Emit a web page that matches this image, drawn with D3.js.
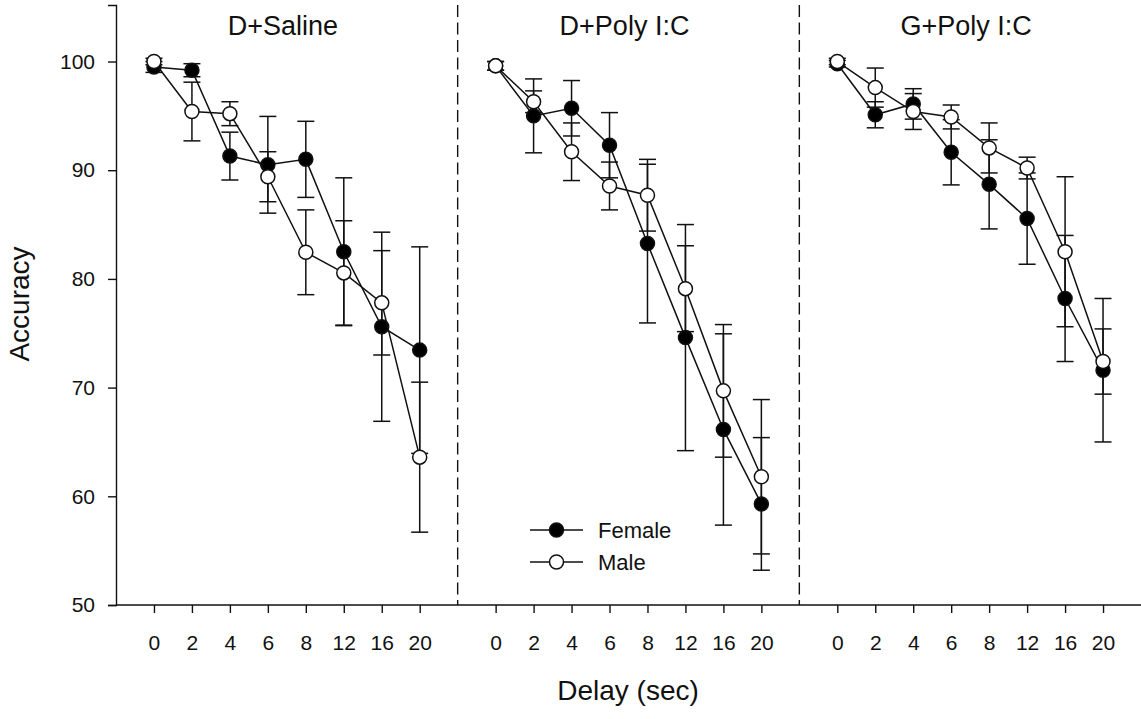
<!DOCTYPE html>
<meta charset="utf-8">
<style>
body { margin: 0; background: #fff; }
svg { font-family: Arial, "Liberation Sans", sans-serif; }
.axis text { font-size: 21px; fill: #111; }
.axis line, .axis path { stroke: #111; stroke-width: 1.4px; }
.series path.line { fill: none; stroke: #111; stroke-width: 1.5px; }
.err line { stroke: #111; stroke-width: 1.5px; }
</style>
<svg width="1141" height="719"></svg>
<script src="https://cdn.jsdelivr.net/npm/d3@7"></script>
<script>

// chart data
var delays = ["0", "2", "4", "6", "8", "12", "16", "20"];
var panels = ["D+Saline", "D+Poly I:C", "G+Poly I:C"];
var seriesNames = ["Female", "Male"];

var femaleMean = [
  [99.5, 99.2, 91.3, 90.5, 91.0, 82.5, 75.6, 73.45],
  [99.6, 95.0, 95.7, 92.3, 83.25, 74.6, 66.15, 59.3],
  [99.8, 95.1, 96.1, 91.65, 88.7, 85.55, 78.2, 71.6]
];
var femaleErr = [
  [0.5, 0.6, 2.2, 4.45, 3.5, 6.8, 8.7, 9.5],
  [0.4, 3.4, 2.55, 3.0, 7.3, 10.4, 8.8, 6.1],
  [0.3, 1.2, 1.4, 3.0, 4.1, 4.2, 5.8, 6.6]
];
var maleMean = [
  [100.0, 95.4, 95.2, 89.4, 82.45, 80.55, 77.8, 63.6],
  [99.6, 96.3, 91.7, 88.55, 87.7, 79.1, 69.7, 61.8],
  [100.0, 97.6, 95.4, 94.9, 92.05, 90.2, 82.5, 72.4]
];
var maleErr = [
  [0.3, 2.7, 1.1, 2.3, 3.9, 4.8, 4.8, 6.9],
  [0.4, 1.0, 2.65, 2.2, 3.3, 3.95, 6.1, 7.1],
  [0.3, 1.8, 1.65, 1.1, 2.3, 1.0, 6.9, 3.0]
];
var yTicks = [50, 60, 70, 80, 90, 100];

var svg = d3.select("svg");
var plotLeft = 116, plotRight = 1141, plotTop = 5, plotBottom = 605;

var y = d3.scaleLinear().domain([50, 105.2]).range([plotBottom, plotTop]);

var panelX = d3.scaleBand().domain(panels).range([plotLeft, plotRight]);

// y axis
svg.append("g")
    .attr("class", "axis")
    .attr("transform", "translate(" + plotLeft + ",0)")
    .call(d3.axisLeft(y).tickValues(yTicks).tickSizeOuter(0).tickSize(8).tickPadding(13));

// x axis baseline
svg.append("line")
    .attr("x1", plotLeft).attr("x2", plotRight)
    .attr("y1", plotBottom).attr("y2", plotBottom)
    .attr("stroke", "#111").attr("stroke-width", 1.4);

// dashed dividers
svg.selectAll(".divider")
    .data(panels.slice(1))
    .enter().append("line")
    .attr("class", "divider")
    .attr("x1", function(d) { return panelX(d); })
    .attr("x2", function(d) { return panelX(d); })
    .attr("y1", plotTop).attr("y2", plotBottom)
    .attr("stroke", "#111").attr("stroke-width", 1.4)
    .attr("stroke-dasharray", "12,5.5");

panels.forEach(function(name, pi) {
  var x = d3.scalePoint().domain(delays)
      .range([panelX(name), panelX(name) + panelX.bandwidth()])
      .padding(1);

  var ax = svg.append("g")
      .attr("class", "axis")
      .attr("transform", "translate(0," + plotBottom + ")")
      .call(d3.axisBottom(x).tickSizeOuter(0).tickSize(8).tickPadding(22));
  ax.select(".domain").remove();

  svg.append("text")
      .attr("x", panelX(name) + panelX.bandwidth() / 2 - 4)
      .attr("y", 35)
      .attr("text-anchor", "middle")
      .style("font-size", "27px")
      .attr("fill", "#111")
      .text(name);

  var sets = [
    { name: "Female", mean: femaleMean[pi], err: femaleErr[pi], fill: "#000" },
    { name: "Male", mean: maleMean[pi], err: maleErr[pi], fill: "#fff" }
  ];

  // error bars first
  sets.forEach(function(s) {
    var pts = delays.map(function(d, i) { return { d: d, m: s.mean[i], e: s.err[i] }; });
    var g = svg.append("g").attr("class", "err");
    g.selectAll(".v").data(pts).enter().append("line")
        .attr("x1", function(p) { return x(p.d); })
        .attr("x2", function(p) { return x(p.d); })
        .attr("y1", function(p) { return y(p.m + p.e); })
        .attr("y2", function(p) { return y(p.m - p.e); });
    g.selectAll(".t").data(pts).enter().append("line")
        .attr("x1", function(p) { return x(p.d) - 8.5; })
        .attr("x2", function(p) { return x(p.d) + 8.5; })
        .attr("y1", function(p) { return y(p.m + p.e); })
        .attr("y2", function(p) { return y(p.m + p.e); });
    g.selectAll(".b").data(pts).enter().append("line")
        .attr("x1", function(p) { return x(p.d) - 8.5; })
        .attr("x2", function(p) { return x(p.d) + 8.5; })
        .attr("y1", function(p) { return y(p.m - p.e); })
        .attr("y2", function(p) { return y(p.m - p.e); });
  });

  sets.forEach(function(s) {
    var pts = delays.map(function(d, i) { return { d: d, m: s.mean[i] }; });
    var g = svg.append("g").attr("class", "series");
    g.append("path")
        .attr("class", "line")
        .attr("d", d3.line()
          .x(function(p) { return x(p.d); })
          .y(function(p) { return y(p.m); })(pts));
    g.selectAll("circle").data(pts).enter().append("circle")
        .attr("cx", function(p) { return x(p.d); })
        .attr("cy", function(p) { return y(p.m); })
        .attr("r", 7)
        .attr("fill", s.fill)
        .attr("stroke", "#111")
        .attr("stroke-width", 1.5);
  });
});

// legend
var legend = svg.append("g").attr("transform", "translate(530,530)");
seriesNames.forEach(function(n, i) {
  var g = legend.append("g").attr("transform", "translate(0," + (i * 32) + ")");
  g.append("line").attr("x1", 0).attr("x2", 53)
      .attr("stroke", "#111").attr("stroke-width", 1.5);
  g.append("circle").attr("cx", 26.5).attr("r", 7)
      .attr("fill", i === 0 ? "#000" : "#fff")
      .attr("stroke", "#111").attr("stroke-width", 1.5);
  g.append("text").attr("x", 68).attr("dy", "0.36em")
      .style("font-size", "22px").attr("fill", "#111")
      .text(n);
});

// axis titles
svg.append("text")
    .attr("transform", "translate(29,304) rotate(-90)")
    .attr("text-anchor", "middle")
    .style("font-size", "28px")
    .attr("fill", "#111")
    .text("Accuracy");

svg.append("text")
    .attr("x", 628)
    .attr("y", 700)
    .attr("text-anchor", "middle")
    .style("font-size", "28px")
    .attr("fill", "#111")
    .text("Delay (sec)");

</script>
